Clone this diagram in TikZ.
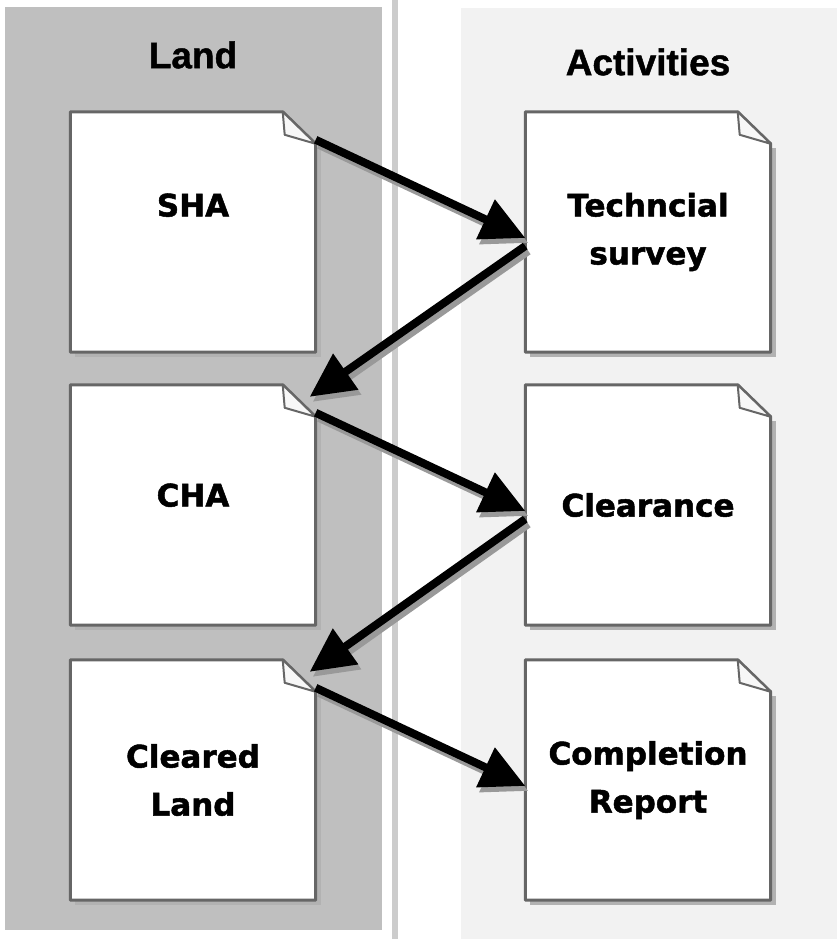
\documentclass[tikz,border=0pt]{standalone}
\usepackage{fontspec}
\setmainfont{DejaVu Sans}[BoldFeatures={FakeBold=1.6}]
\newfontfamily\headfont{Liberation Sans}[BoldFeatures={FakeBold=1.2}]
\usetikzlibrary{arrows.meta}
\pgfdeclarelayer{bg}
\pgfdeclarelayer{paper}
\pgfsetlayers{bg,paper,main}

% arrow with a grey shadow under it
\newcommand\flowlink[2]{%
  \draw[link, draw=black!40, transform canvas={shift={(3pt,-5pt)}}] #1 -- #2;
  \draw[link] #1 -- #2;}

\begin{document}
\begin{tikzpicture}[x=1pt, y=1pt,
  note/.style={minimum width=245pt, minimum height=240pt, inner sep=0pt, align=center,
    font=\bfseries\fontsize{31}{48}\selectfont},
  head/.style={font=\headfont\bfseries\fontsize{37}{40}\selectfont},
  link/.style={line width=8pt, -{Triangle[length=44pt,width=42pt]}}]

\useasboundingbox (0,0) rectangle (837,939);

% columns
\begin{pgfonlayer}{bg}
\fill[black!25] (5,9) rectangle (382,932);
\fill[black!20] (392,0) rectangle (398,939);
\fill[black!5] (461,0) rectangle (837,931);
\end{pgfonlayer}

\node[head] (land) at (193,884) {Land};
\node[head] (act) at (648,877) {Activities};

\node[note, text depth=54pt] (sha) at (193,707) {SHA};
\node[note, text depth=20pt] (cha) at (193,434) {CHA};
\node[note] (cleared) at (193,159) {Cleared\\Land};

\node[note] (tech) at (648,707) {Techncial\\survey};
\node[note] (clear) at (648,434) {Clearance};
\node[note] (report) at (648,159) {Completion\\Report};

% paper sheets with folded corner
\begin{pgfonlayer}{paper}
\foreach \n in {sha,cha,cleared,tech,clear,report}{
  \fill[black!30] ([shift={(5,-5)}]\n.south west) rectangle ([shift={(5,-36)}]\n.north east);
  \filldraw[fill=white, draw=black!60, line width=3pt, line join=round] (\n.north west) -- ([xshift=-33]\n.north east) -- ([yshift=-32]\n.north east) -- (\n.south east) -- (\n.south west) -- cycle;
  \filldraw[fill=black!3, draw=black!60, line width=2pt, line join=round] ([xshift=-33]\n.north east) -- ([yshift=-32]\n.north east) -- ([shift={(-31,-23)}]\n.north east) -- cycle;
}
\end{pgfonlayer}

\flowlink{([yshift=-28]sha.north east)}{([yshift=-6]tech.west)}
\flowlink{([yshift=-14]tech.west)}{([shift={(-6,-12)}]cha.north east)}
\flowlink{([yshift=-28]cha.north east)}{([yshift=-6]clear.west)}
\flowlink{([yshift=-14]clear.west)}{([shift={(-6,-12)}]cleared.north east)}
\flowlink{([yshift=-28]cleared.north east)}{([yshift=-6]report.west)}
\end{tikzpicture}
\end{document}
